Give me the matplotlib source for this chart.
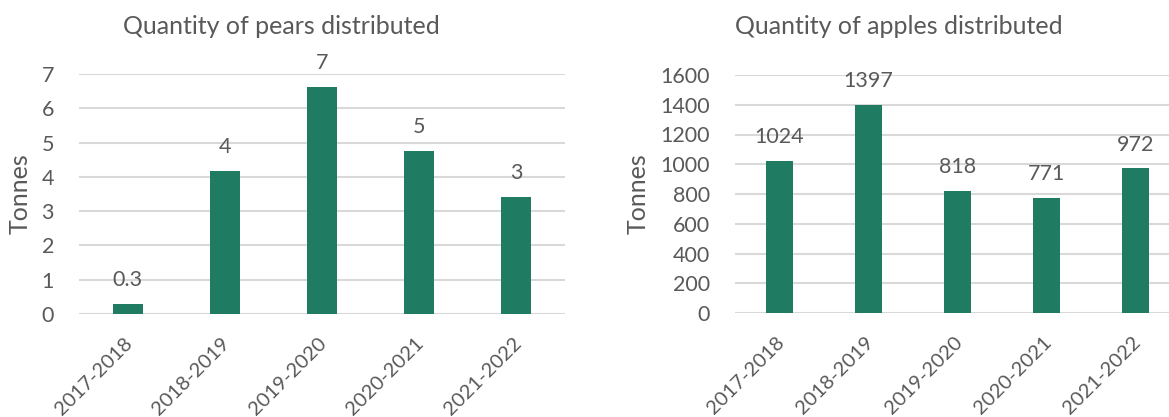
import matplotlib
matplotlib.use("Agg")
import matplotlib.pyplot as plt
import matplotlib.transforms as mtransforms

seasons = ["2017-2018", "2018-2019", "2019-2020", "2020-2021", "2021-2022"]
pears = [0.29, 4.18, 6.62, 4.76, 3.41]
pear_labels = ["0.3", "4", "7", "5", "3"]
apples = [1024, 1397, 818, 771, 972]
apple_labels = ["1024", "1397", "818", "771", "972"]

BAR = "#1F7B62"
TXT = "#595959"
GRID = "#D9D9D9"
plt.rcParams['font.family'] = ['Lato', 'DejaVu Sans']

fig = plt.figure(figsize=(11.69, 4.17), dpi=100)

def draw(ax, vals, labels, ymax, step, title, title_x, ylab_x):
    x = list(range(len(seasons)))
    ax.bar(x, vals, width=0.31, color=BAR, zorder=3)
    ax.set_xlim(-0.5, len(seasons) - 0.5)
    ax.set_ylim(0, ymax)
    ax.set_yticks([i * step for i in range(int(ymax / step) + 1)])
    ax.yaxis.grid(True, color=GRID, linewidth=1.5, zorder=0)
    ax.set_axisbelow(True)
    for s in ax.spines.values():
        s.set_visible(False)
    ax.tick_params(axis='both', length=0, labelcolor=TXT)
    ax.tick_params(axis='y', pad=18, labelsize=15.5)
    ax.set_xticks(x)
    ax.set_xticklabels(seasons, rotation=45, ha='right', rotation_mode='anchor')
    ax.tick_params(axis='x', pad=15, labelsize=14.5)
    off = mtransforms.ScaledTranslation(-4 / 100, 0, fig.dpi_scale_trans)
    for t in ax.get_xticklabels():
        t.set_transform(t.get_transform() + off)
    ax.set_ylabel("Tonnes", fontsize=18, color=TXT)
    ax.yaxis.set_label_coords(ylab_x, 0.5)
    for xi, v, l in zip(x, vals, labels):
        ax.annotate(l, (xi, v), xytext=(0, 10), textcoords='offset points',
                    ha='center', va='bottom', fontsize=15.5, color=TXT)
    fig.text(title_x, 1 - 27 / 417, title, ha='center', va='center', fontsize=18, color=TXT)

ax1 = fig.add_axes([79 / 1169, 1 - 314 / 417, 486 / 1169, 240 / 417])
draw(ax1, pears, pear_labels, 7, 1, "Quantity of pears distributed", 281 / 1169, (32 - 79) / 486)
ax2 = fig.add_axes([735 / 1169, 1 - 313 / 417, 445 / 1169, 238 / 417])
draw(ax2, apples, apple_labels, 1600, 200, "Quantity of apples distributed", 899 / 1169, (650 - 735) / 445)

fig.savefig("out.png", dpi=100)
